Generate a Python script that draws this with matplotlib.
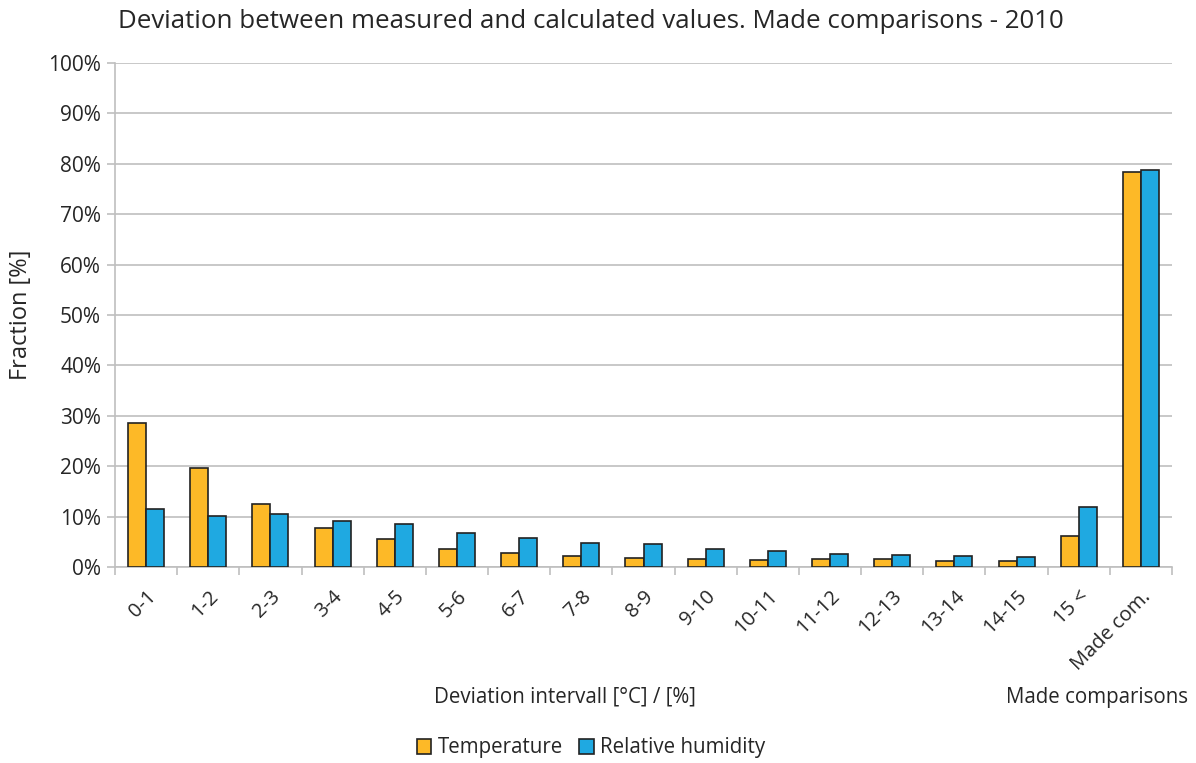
import numpy as np
import matplotlib.pyplot as plt
from matplotlib.ticker import FuncFormatter, FixedLocator

plt.rcParams['font.family'] = ['Open Sans', 'DejaVu Sans']

# Chart data
categories = ['0-1', '1-2', '2-3', '3-4', '4-5', '5-6', '6-7', '7-8', '8-9', '9-10',
              '10-11', '11-12', '12-13', '13-14', '14-15', '15 <', 'Made com.']
temperature = [28.6, 19.6, 12.5, 7.8, 5.6, 3.6, 2.8, 2.2, 1.85, 1.6,
               1.4, 1.5, 1.5, 1.25, 1.25, 6.15, 78.4]
humidity = [11.6, 10.1, 10.6, 9.2, 8.5, 6.7, 5.75, 4.8, 4.5, 3.6,
            3.1, 2.5, 2.45, 2.1, 2.0, 11.9, 78.8]

c_temp = '#FDB927'
c_rh = '#1FA9E1'
grid_c = '#BFBFBF'
txt_c = '#262626'

fig = plt.figure(figsize=(11.96, 7.63), dpi=100)
ax = fig.add_axes([115/1196, 1 - 567/763, (1172-115)/1196, (567-63)/763])

x = np.arange(len(categories))
w = 0.29
ax.bar(x - w/2, temperature, w, color=c_temp, edgecolor='#222222', linewidth=1.2,
       label='Temperature', zorder=3)
ax.bar(x + w/2, humidity, w, color=c_rh, edgecolor='#222222', linewidth=1.2,
       label='Relative humidity', zorder=3)

ax.set_xlim(-0.5, len(categories) - 0.5)
ax.set_ylim(0, 100)
ax.set_yticks(np.arange(0, 101, 10))
ax.yaxis.set_major_formatter(FuncFormatter(lambda v, p: f'{int(v)}%'))
ax.grid(axis='y', color=grid_c, linewidth=1.2, zorder=0)

for s in ['top', 'right']:
    ax.spines[s].set_visible(False)
ax.spines['left'].set_color(grid_c)
ax.spines['bottom'].set_color(grid_c)
ax.spines['left'].set_linewidth(1.2)
ax.spines['bottom'].set_linewidth(1.2)

# category labels at centers, tick marks at boundaries
ax.set_xticks(x)
ax.set_xticklabels(categories, rotation=45, ha='right', rotation_mode='anchor',
                   fontsize=14.5, color=txt_c)
ax.tick_params(axis='x', which='major', length=0, pad=14)
ax.xaxis.set_minor_locator(FixedLocator(np.arange(-0.5, len(categories), 1.0)))
ax.tick_params(axis='x', which='minor', length=6, color=grid_c, width=1.2)
ax.tick_params(axis='y', length=6, color=grid_c, width=1.2, labelsize=15,
               labelcolor=txt_c, pad=4)

ax.set_ylabel('Fraction [%]', fontsize=17, color=txt_c)
ax.yaxis.set_label_coords(-82/1057, 0.5)

fig.text(118/1196, 1 - 22/763, 'Deviation between measured and calculated values. Made comparisons - 2010',
         fontsize=18.6, color=txt_c, ha='left', va='center')
fig.text(565/1196, 1 - 697/763, 'Deviation intervall [°C] / [%]', fontsize=14.8,
         color=txt_c, ha='center', va='center')
fig.text(1097/1196, 1 - 697/763, 'Made comparisons', fontsize=14.8,
         color=txt_c, ha='center', va='center')

fig.legend(loc='center', bbox_to_anchor=(591/1196, 1 - 748/763), ncol=2, frameon=False,
           fontsize=14.8, handlelength=0.7, handleheight=0.7, handletextpad=0.3,
           columnspacing=0.8, labelcolor=txt_c)

fig.savefig('out.png', dpi=100)
